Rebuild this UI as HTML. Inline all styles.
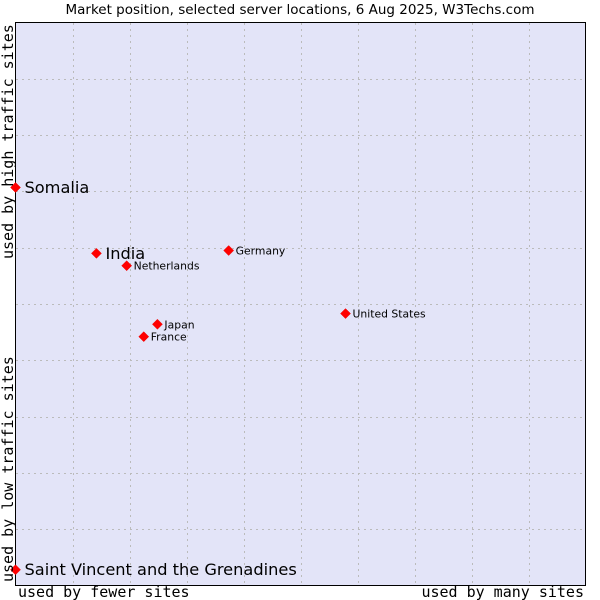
<!DOCTYPE html>
<html><head><meta charset="utf-8"><style>
body{margin:0;background:#fff;width:600px;height:600px;overflow:hidden}
svg{display:block}
</style></head><body>
<svg id="chart" width="600" height="600" xmlns="http://www.w3.org/2000/svg">
<text x="300" y="14" text-anchor="middle" font-family="DejaVu Sans, Liberation Sans, sans-serif" font-size="13.5" fill="#000">Market position, selected server locations, 6 Aug 2025, W3Techs.com</text>
<rect x="15.5" y="22.5" width="570" height="563" fill="#e3e4f8" stroke="#000" stroke-width="1"/>
<g id="grid"></g>
<g id="points"></g>
<text x="18" y="597" font-family="DejaVu Sans Mono, Liberation Mono, monospace" font-size="15" fill="#000">used by fewer sites</text>
<text x="584" y="597" text-anchor="end" font-family="DejaVu Sans Mono, Liberation Mono, monospace" font-size="15" fill="#000">used by many sites</text>
<text transform="translate(13,259) rotate(-90)" font-family="DejaVu Sans Mono, Liberation Mono, monospace" font-size="15" fill="#000">used by high traffic sites</text>
<text transform="translate(13,582) rotate(-90)" font-family="DejaVu Sans Mono, Liberation Mono, monospace" font-size="15" fill="#000">used by low traffic sites</text>
</svg>
<script>
const categories=["Somalia","India","Netherlands","Germany","United States","Japan","France","Saint Vincent and the Grenadines"];
const xValues=[0,14.2,19.5,37.4,57.9,24.9,22.5,0];
const yValues=[70.7,59,56.8,59.5,48.3,46.4,44.2,2.8];
const bigLabels=[true,true,false,false,false,false,false,true];
const gridTicks=[10,20,30,40,50,60,70,80,90];
const X0=15.5,W=570,Y0=585.5,H=563;
function sx(v){return X0+v/100*W;}
function sy(v){return Y0-v/100*H;}
const ns="http://www.w3.org/2000/svg";
const grid=document.getElementById('grid');
gridTicks.forEach(t=>{
  const v=document.createElementNS(ns,'line');
  
  
  const xx=Math.round(sx(t))+0.5;
  v.setAttribute('x1',xx);v.setAttribute('x2',xx);v.setAttribute('y1',23);v.setAttribute('y2',585);
  v.setAttribute('stroke','#bbb');v.setAttribute('stroke-dasharray','2,4');
  grid.appendChild(v);
  const h=document.createElementNS(ns,'line');
  
  
  const yy=Math.round(sy(t))+0.5;
  h.setAttribute('x1',16);h.setAttribute('x2',585);h.setAttribute('y1',yy);h.setAttribute('y2',yy);
  h.setAttribute('stroke','#bbb');h.setAttribute('stroke-dasharray','2,4');
  grid.appendChild(h);
});
const pts=document.getElementById('points');
categories.forEach((c,i)=>{
  const x=sx(xValues[i]),y=sy(yValues[i]);
  const d=document.createElementNS(ns,'path');
  
  
  d.setAttribute('d',`M${x-5},${y} L${x},${y-5} L${x+5},${y} L${x},${y+5} Z`);
  d.setAttribute('fill','#f00');
  d.setAttribute('stroke','#e00');d.setAttribute('stroke-width','0.5');
  pts.appendChild(d);
  const t=document.createElementNS(ns,'text');
  
  
  t.setAttribute('x',x+(bigLabels[i]?9:7));
  t.setAttribute('y',y+(bigLabels[i]?5.5:4));
  t.setAttribute('font-family','DejaVu Sans, Liberation Sans, sans-serif');
  t.setAttribute('font-size',bigLabels[i]?16.2:10.8);
  t.setAttribute('fill','#000');
  t.textContent=c;
  pts.appendChild(t);
});
</script>
</body></html>
